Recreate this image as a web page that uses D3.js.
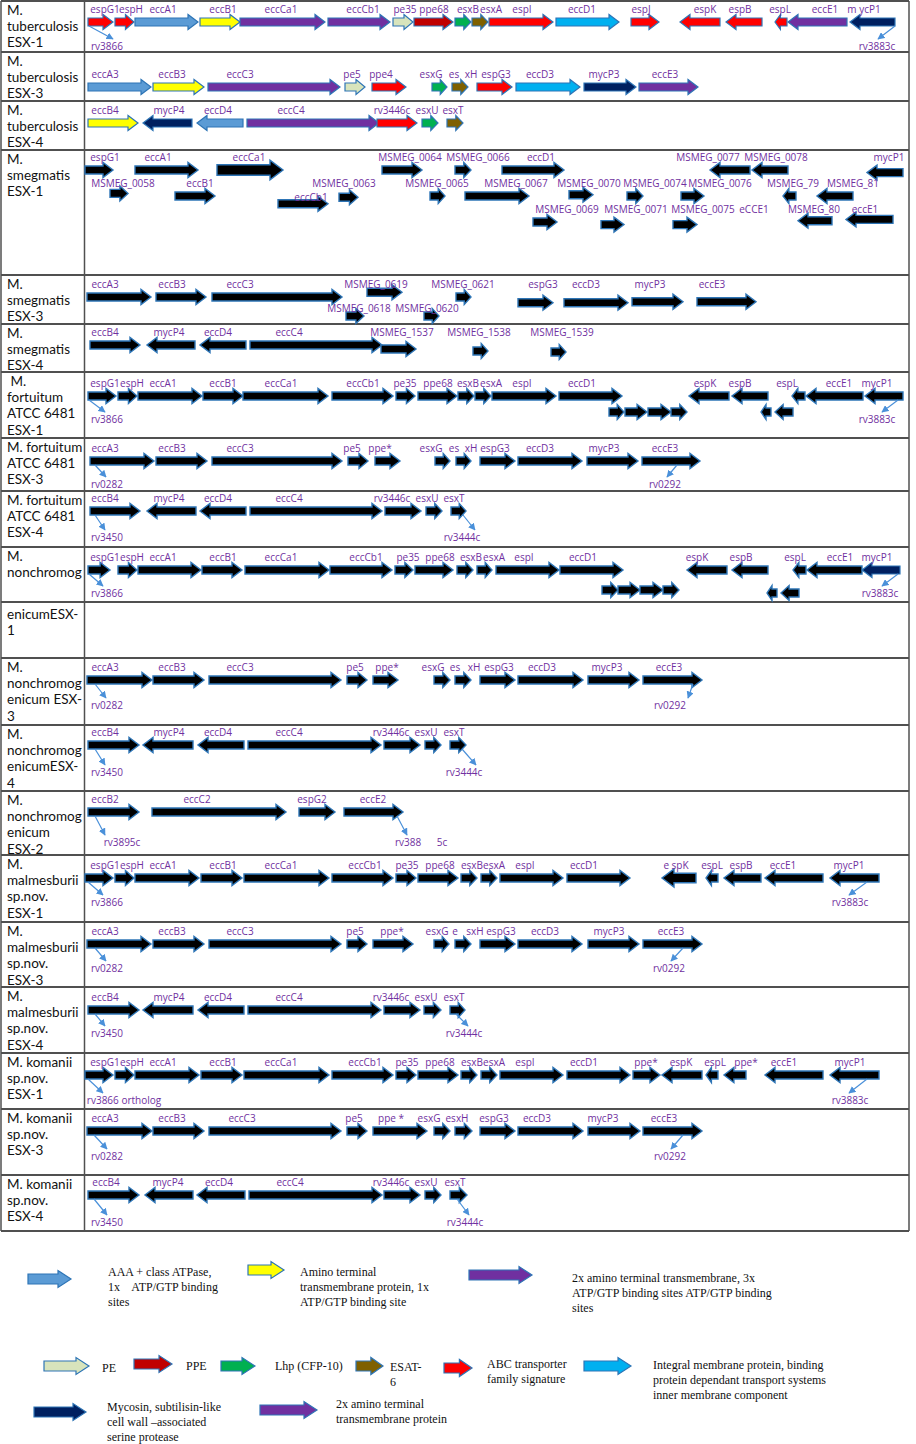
<!DOCTYPE html>
<html>
<head>
<meta charset="utf-8">
<script src="https://cdn.jsdelivr.net/npm/d3@7"></script>
<style>
  body { margin: 0; background: #fff; }
  svg { display: block; }
</style>
</head>
<body>
<div id="chart"></div>
<script>
  /* ============ DATA ============ */
  // row titles (left column)
  const rowLabels = [
    ["M.", "tuberculosis", "ESX-1"],
    ["M.", "tuberculosis", "ESX-3"],
    ["M.", "tuberculosis", "ESX-4"],
    ["M.", "smegmatis", "ESX-1"],
    ["M.", "smegmatis", "ESX-3"],
    ["M.", "smegmatis", "ESX-4"],
    [" M.", "fortuitum", "ATCC 6481", "ESX-1"],
    ["M. fortuitum", "ATCC 6481", "ESX-3"],
    ["M. fortuitum", "ATCC 6481", "ESX-4"],
    ["M.", "nonchromog"],
    ["enicumESX-", "1"],
    ["M.", "nonchromog", "enicum ESX-", "3"],
    ["M.", "nonchromog", "enicumESX-", "4"],
    ["M.", "nonchromog", "enicum", "ESX-2"],
    ["M.", "malmesburii", "sp.nov.", "ESX-1"],
    ["M.", "malmesburii", "sp.nov.", "ESX-3"],
    ["M.", "malmesburii", "sp.nov.", "ESX-4"],
    ["M. komanii", "sp.nov.", "ESX-1"],
    ["M. komanii", "sp.nov.", "ESX-3"],
    ["M. komanii", "sp.nov.", "ESX-4"]
  ];

  // genes: [label, start, end, strand, type, lane, labelPos, labelLane, size]
  // start/end/labelPos are positions along the locus (0..825)
  const tbEsx1 = [
    ["espG1",3,28,1,"abc",0,20], ["espH",30,49,1,"abc",0,46], ["eccA1",50,113,1,"atp",0,78],
    ["eccB1",115,155,1,"tm1",0,138], ["eccCa1",155,240,1,"tm3",0,196], ["eccCb1",243,305,1,"tm3",0,278],
    ["pe35",308,328,1,"pe",0,320], ["ppe68",329,368,1,"ppe",0,349], ["esxB",370,386,1,"lhp",0,383],
    ["esxA",387,403,1,"esat",0,406], ["espI",404,468,1,"abc",0,437], ["eccD1",471,534,1,"imp",0,497],
    ["espJ",546,574,1,"abc",0,556], ["espK",595,635,-1,"abc",0,620], ["espB",641,677,-1,"abc",0,655],
    ["espL",690,702,-1,"abc",0,695], ["eccE1",703,762,-1,"tm3",0,740], ["m ycP1",765,810,-1,"myc",0,779]
  ];
  const tbEsx3 = [
    ["eccA3",3,66,1,"atp",0,20], ["eccB3",68,119,1,"tm1",0,87], ["eccC3",123,255,1,"tm3",0,155],
    ["pe5",260,280,1,"pe",0,267], ["ppe4",287,321,1,"abc",0,296], ["esxG",347,362,1,"lhp",0,346],
    ["es",null,null,0,null,0,369], ["xH",367,383,1,"esat",0,386], ["espG3",392,427,1,"abc",0,411],
    ["eccD3",431,495,1,"imp",0,455], ["mycP3",499,551,1,"myc",0,519], ["eccE3",554,613,1,"tm3",0,580]
  ];
  const tbEsx4 = [
    ["eccB4",3,53,1,"tm1",0,20], ["mycP4",58,107,-1,"myc",0,84], ["eccD4",112,158,-1,"atp",0,133],
    ["eccC4",162,294,1,"tm3",0,206], ["rv3446c",292,332,1,"abc",0,307], ["esxU",337,353,1,"lhp",0,342],
    ["esxT",362,378,1,"esat",0,368]
  ];
  const smEsx1 = [
    ["espG1",0,28,1,"k",0,20], ["eccA1",50,113,1,"k",0,73], ["eccCa1",132,198,1,"k",0,164,0,1.3],
    ["MSMEG_0064",297,337,1,"k",0,325], ["MSMEG_0066",370,386,1,"k",0,393], ["eccD1",417,479,1,"k",0,456],
    ["MSMEG_0077",625,665,-1,"k",0,623], ["MSMEG_0078",667,703,-1,"k",0,691], ["mycP1",782,818,-1,"k",0.1,804,0],
    ["MSMEG_0058",25,43,1,"k",0.9,38,1], ["eccB1",90,130,1,"k",1,115], ["MSMEG_0063",254,273,1,"k",1.05,259,1],
    ["MSMEG_0065",345,360,1,"k",1,352], ["MSMEG_0067",380,444,1,"k",1,431], ["MSMEG_0070",484,508,1,"k",0.95,504,1],
    ["MSMEG_0074",542,558,1,"k",1,570], ["MSMEG_0076",596,619,1,"k",1,635], ["MSMEG_79",698,711,-1,"k",1,708],
    ["MSMEG_81",732,768,-1,"k",1,768], ["eccCb1",193,243,1,"k",1.3,226,1.55],
    ["MSMEG_0069",448,472,1,"k",2,482], ["MSMEG_0071",516,539,1,"k",2.1,551,2], ["MSMEG_0075",588,612,1,"k",2.1,618,2],
    ["eCCE1",null,null,0,null,2,669], ["MSMEG_80",713,747,-1,"k",1.95,729,2], ["eccE1",761,808,-1,"k",1.9,780,2]
  ];
  const smEsx3 = [
    ["eccA3",2,66,1,"k",0,20], ["eccB3",71,121,1,"k",0,87], ["eccC3",127,257,1,"k",0,155],
    ["MSMEG_0619",282,317,1,"k",-0.25,291,0], ["MSMEG_0618",261,279,1,"k",1,274,1.25],
    ["MSMEG_0620",339,354,1,"k",1,342,1.25], ["MSMEG_0621",371,386,1,"k",0,378],
    ["espG3",433,468,1,"k",0.3,458,0], ["eccD3",479,543,1,"k",0.3,501,0],
    ["mycP3",547,598,1,"k",0.25,565,0], ["eccE3",612,671,1,"k",0.25,627,0]
  ];
  const smEsx4 = [
    ["eccB4",5,55,1,"k",0,20], ["mycP4",62,110,-1,"k",0,84], ["eccD4",115,161,-1,"k",0,133],
    ["eccC4",165,297,1,"k",0,204], ["MSMEG_1537",296,331,1,"k",0.2,317,0],
    ["MSMEG_1538",388,403,1,"k",0.3,394,0], ["MSMEG_1539",466,481,1,"k",0.35,477,0]
  ];
  const ftEsx1 = [
    ["espG1",3,31,1,"k",0,20], ["espH",33,52,1,"k",0,47], ["eccA1",53,117,1,"k",0,78],
    ["eccB1",118,158,1,"k",0,138], ["eccCa1",158,243,1,"k",0,196], ["eccCb1",247,308,1,"k",0,278],
    ["pe35",311,330,1,"k",0,320], ["ppe68",333,372,1,"k",0,353], ["esxB",373,389,1,"k",0,383],
    ["esxA",390,406,1,"k",0,406], ["espI",407,471,1,"k",0,437], ["eccD1",474,537,1,"k",0,497],
    ["",524,539,1,"k",1], ["",540,562,1,"k",1], ["",563,586,1,"k",1], ["",586,602,1,"k",1],
    ["espK",604,644,-1,"k",0,620], ["espB",647,683,-1,"k",0,655],
    ["",676,686,-1,"k",1], ["",690,708,-1,"k",1],
    ["espL",707,720,-1,"k",0,702], ["eccE1",721,778,-1,"k",0,754], ["mycP1",780,818,-1,"k",0,792]
  ];
  const ftEsx3 = [
    ["eccA3",5,69,1,"k",0,20], ["eccB3",71,122,1,"k",0,87], ["eccC3",127,257,1,"k",0,155],
    ["pe5",263,283,1,"k",0,267], ["ppe*",290,315,1,"k",0,295], ["esxG",350,365,1,"k",0,346],
    ["es",null,null,0,null,0,369], ["xH",371,386,1,"k",0,386], ["espG3",395,430,1,"k",0,410],
    ["eccD3",433,497,1,"k",0,455], ["mycP3",502,553,1,"k",0,519], ["eccE3",557,615,1,"k",0,580]
  ];
  const ftEsx4 = [
    ["eccB4",5,55,1,"k",0,20], ["mycP4",62,111,-1,"k",0,84], ["eccD4",115,161,-1,"k",0,133],
    ["eccC4",165,297,1,"k",0,204], ["rv3446c",300,336,1,"k",0,307], ["esxU",341,357,1,"k",0,342],
    ["esxT",366,381,1,"k",0,369]
  ];
  const ncEsx1 = [
    ["espG1",3,25,1,"k",0,20], ["espH",33,52,1,"k",0,47], ["eccA1",53,116,1,"k",0,78],
    ["eccB1",117,157,1,"k",0,138], ["eccCa1",160,244,1,"k",0,196], ["eccCb1",245,307,1,"k",0,281],
    ["pe35",310,328,1,"k",0,323], ["ppe68",330,368,1,"k",0,355], ["esxB",372,388,1,"k",0,386],
    ["esxA",392,407,1,"k",0,409], ["espI",411,474,1,"k",0,439], ["eccD1",475,538,1,"k",0,498],
    ["",517,533,1,"k",1], ["",533,555,1,"k",1], ["",555,578,1,"k",1], ["",578,594,1,"k",1],
    ["espK",602,642,-1,"k",0,612], ["espB",647,683,-1,"k",0,656],
    ["",682,692,-1,"k",1.15], ["",696,714,-1,"k",1.15],
    ["espL",708,721,-1,"k",0,710], ["eccE1",722,777,-1,"k",0,755], ["mycP1",777,815,-1,"myc",0,792]
  ];
  const ncEsx1b = [];
  const ncEsx3 = [
    ["eccA3",2,67,1,"k",0,20], ["eccB3",68,119,1,"k",0,87], ["eccC3",124,256,1,"k",0,155],
    ["pe5",262,282,1,"k",0,270], ["ppe*",288,313,1,"k",0,302], ["esxG",349,365,1,"k",0,348],
    ["es",null,null,0,null,0,370], ["xH",370,386,1,"k",0,389], ["espG3",395,430,1,"k",0,414],
    ["eccD3",433,498,1,"k",0,457], ["mycP3",503,554,1,"k",0,522], ["eccE3",558,617,1,"k",0,584]
  ];
  const ncEsx4 = [
    ["eccB4",3,54,1,"k",0,20], ["mycP4",58,108,-1,"k",0,84], ["eccD4",113,159,-1,"k",0,133],
    ["eccC4",163,296,1,"k",0,204], ["rv3446c",299,335,1,"k",0,306], ["esxU",340,356,1,"k",0,341],
    ["esxT",365,381,1,"k",0,369]
  ];
  const ncEsx2 = [
    ["eccB2",3,54,1,"k",0,20], ["eccC2",67,201,1,"k",0,112], ["espG2",214,250,1,"k",0,227],
    ["eccE2",259,318,1,"k",0,288]
  ];
  const esx1Core = [
    ["espG1",0,28,1,"k",0,20], ["espH",30,49,1,"k",0,47], ["eccA1",50,114,1,"k",0,78],
    ["eccB1",116,157,1,"k",0,138], ["eccCa1",159,244,1,"k",0,196], ["eccCb1",247,308,1,"k",0,280],
    ["pe35",311,331,1,"k",0,322], ["ppe68",333,373,1,"k",0,355], ["esxB",376,392,1,"k",0,387],
    ["esxA",396,412,1,"k",0,409], ["espI",415,478,1,"k",0,440], ["eccD1",482,545,1,"k",0,499]
  ];
  const mmEsx1 = esx1Core.concat([
    ["e spK",577,611,-1,"k",0,591,0,1.2], ["espL",621,633,-1,"k",0,627], ["espB",639,676,-1,"k",0,656],
    ["eccE1",680,738,-1,"k",0,698], ["mycP1",745,794,-1,"k",0,764]
  ]);
  const mmEsx3 = [
    ["eccA3",2,66,1,"k",0,20], ["eccB3",68,119,1,"k",0,87], ["eccC3",124,256,1,"k",0,155],
    ["pe5",262,282,1,"k",0,270], ["ppe*",288,328,1,"k",0,307], ["esxG",349,364,1,"k",0,352],
    ["e",null,null,0,null,0,370], ["sxH",370,386,1,"k",0,390], ["espG3",395,430,1,"k",0,416],
    ["eccD3",433,497,1,"k",0,460], ["mycP3",503,554,1,"k",0,524], ["eccE3",558,617,1,"k",0,586]
  ];
  const mmEsx4 = [
    ["eccB4",3,54,1,"k",0,20], ["mycP4",58,108,-1,"k",0,84], ["eccD4",113,159,-1,"k",0,133],
    ["eccC4",163,296,1,"k",0,204], ["rv3446c",299,335,1,"k",0,306], ["esxU",339,356,1,"k",0,341],
    ["esxT",365,380,1,"k",0,369]
  ];
  const kmEsx1 = esx1Core.concat([
    ["ppe*",548,575,1,"k",0,561], ["espK",577,617,-1,"k",0,596], ["espL",621,633,-1,"k",0,630],
    ["ppe*",639,661,-1,"k",0,661], ["eccE1",680,738,-1,"k",0,699], ["mycP1",745,794,-1,"k",0,765]
  ]);
  const kmEsx3 = [
    ["eccA3",2,67,1,"k",0,20], ["eccB3",68,119,1,"k",0,87], ["eccC3",124,256,1,"k",0,157],
    ["pe5",262,282,1,"k",0,269], ["ppe *",288,342,1,"k",0,306], ["esxG",349,365,1,"k",0,344],
    ["esxH",370,387,1,"k",0,372], ["espG3",395,430,1,"k",0,409], ["eccD3",433,498,1,"k",0,452],
    ["mycP3",503,555,1,"k",0,518], ["eccE3",558,617,1,"k",0,579]
  ];
  const kmEsx4 = [
    ["eccB4",3,54,1,"k",0,21], ["mycP4",60,108,-1,"k",0,83], ["eccD4",112,160,-1,"k",0,134],
    ["eccC4",164,297,1,"k",0,205], ["rv3446c",299,335,1,"k",0,306], ["esxU",340,356,1,"k",0,341],
    ["esxT",365,382,1,"k",0,370]
  ];

  const loci = [tbEsx1, tbEsx3, tbEsx4, smEsx1, smEsx3, smEsx4, ftEsx1, ftEsx3, ftEsx4,
                ncEsx1, ncEsx1b, ncEsx3, ncEsx4, ncEsx2, mmEsx1, mmEsx3, mmEsx4, kmEsx1, kmEsx3, kmEsx4];

  // Rv orthologue call-outs: [row, text, from, to, labelPos]
  const callouts = [
    [0,"rv3866",4,28,22], [0,"rv3883c",810,793,792],
    [6,"rv3866",4,20,22], [6,"rv3883c",813,797,792],
    [7,"rv0282",10,21,22], [7,"rv0292",592,582,580],
    [8,"rv3450",10,20,22], [8,"rv3444c",378,390,377],
    [9,"rv3866",4,18,22], [9,"rv3883c",813,797,795],
    [11,"rv0282",10,21,22], [11,"rv0292",608,603,585],
    [12,"rv3450",10,20,22], [12,"rv3444c",377,391,379],
    [13,"rv3895c",10,20,37], [13,"rv388",312,322,323], [13,"5c",null,null,357],
    [14,"rv3866",3,18,22], [14,"rv3883c",782,764,765],
    [15,"rv0282",10,21,22], [15,"rv0292",598,586,584],
    [16,"rv3450",10,20,22], [16,"rv3444c",371,383,379],
    [17,"rv3866 ortholog",3,18,39], [17,"rv3883c",782,764,765],
    [18,"rv0282",9,22,22], [18,"rv0292",598,586,585],
    [19,"rv3450",9,22,22], [19,"rv3444c",372,384,380]
  ];

  // legend
  const legendTypes = ["atp","tm1","tm3","pe","ppe","lhp","esat","abc","imp","myc","tm2"];
  const legendLabels = [
    ["AAA + class ATPase,", "1x    ATP/GTP binding", "sites"],
    ["Amino terminal", "transmembrane protein, 1x", "ATP/GTP binding site"],
    ["2x amino terminal transmembrane, 3x", "ATP/GTP binding sites ATP/GTP binding", "sites"],
    ["PE"], ["PPE"], ["Lhp (CFP-10)"], ["ESAT-", "6"],
    ["ABC transporter", "family signature"],
    ["Integral membrane protein, binding", "protein dependant transport systems", "inner membrane component"],
    ["Mycosin, subtilisin-like", "cell wall \u2013associated", "serine protease"],
    ["2x amino terminal", "transmembrane protein"]
  ];

  /* ============ STYLE & LAYOUT ============ */
  const TYPE_COLORS = {
    atp: "#5b9bd5", tm1: "#ffff00", tm3: "#7030a0", tm2: "#7030a0", pe: "#d8e4bc",
    ppe: "#c00000", lhp: "#00b050", esat: "#7f6000", abc: "#ff0000", imp: "#00b0f0",
    myc: "#002060", k: "#000000"
  };
  const W = 916, H = 1444;
  const TABLE_TOP = 1, COL_X = 84.5, RIGHT_X = 909;
  const ROW_H = [51,49,49,125,49,48,66,53,56,55,56,67,66,64,67,65,66,56,66,56];
  const ARROW_DY = [21,35,22,20,22,21,24,23,20,23,null,22,20,21,23,22,23,22,22,20];
  const LANE_GAP = {3: 26, 4: 19, 5: 20, 6: 16, 9: 20};
  const CALLOUT_DY = {0:24, 6:23, 7:23, 8:26, 9:23, 11:25, 12:27, 13:30, 14:24, 15:24, 16:23, 17:25, 18:25, 19:27};
  // legend placement: [x0, x1, arrowY, textX, firstLineY]
  const LEGEND_POS = [
    [28,71,1279,108,1272], [248,284,1270,300,1272], [469,532,1275,572,1278],
    [44,89,1366,102,1368], [134,172,1364,186,1366], [221,255,1366,275,1366],
    [356,383,1366,390,1367], [444,472,1368,487,1364], [584,631,1366,653,1365],
    [34,86,1412,107,1407], [260,317,1410,336,1404]
  ];

  const rowTops = [TABLE_TOP].concat(Array.from(d3.cumsum(ROW_H), v => TABLE_TOP + v));
  const x = d3.scaleLinear().domain([0, 825]).range([85, 910]);

  function arrowPath(x0, x1, y, dir, k, bh0, hh0, hl0) {
    const len = x1 - x0;
    const bh = bh0 * k, hh = hh0 * k;
    const hl = Math.min(hl0 * k, Math.max(5, len * 0.45));
    if (dir > 0) {
      const xb = x1 - hl;
      return `M${x0},${y - bh/2}H${xb}V${y - hh/2}L${x1},${y}L${xb},${y + hh/2}V${y + bh/2}H${x0}Z`;
    }
    const xb = x0 + hl;
    return `M${x1},${y - bh/2}H${xb}V${y - hh/2}L${x0},${y}L${xb},${y + hh/2}V${y + bh/2}H${x1}Z`;
  }

  /* ============ DRAW ============ */
  const svg = d3.select("#chart").append("svg").attr("width", W).attr("height", H);

  svg.append("defs").append("marker")
    .attr("id", "tip").attr("viewBox", "0 0 10 10")
    .attr("refX", 9).attr("refY", 5)
    .attr("markerWidth", 6).attr("markerHeight", 6)
    .attr("orient", "auto")
    .append("path").attr("d", "M0,0L10,5L0,10Z").attr("fill", "#4a90d9");

  // table grid
  const grid = svg.append("g").attr("stroke", "#505050").attr("fill", "none");
  grid.selectAll("line.h").data(rowTops).join("line")
    .attr("x1", 1).attr("x2", RIGHT_X)
    .attr("y1", d => d).attr("y2", d => d)
    .attr("stroke-width", 1.8);
  grid.append("line").attr("x1", 1).attr("x2", 1)
    .attr("y1", TABLE_TOP).attr("y2", rowTops[rowTops.length - 1]).attr("stroke-width", 1.5);
  grid.append("line").attr("x1", COL_X).attr("x2", COL_X)
    .attr("y1", TABLE_TOP).attr("y2", rowTops[rowTops.length - 1]).attr("stroke-width", 1.5);
  grid.append("line").attr("x1", RIGHT_X).attr("x2", RIGHT_X)
    .attr("y1", TABLE_TOP).attr("y2", rowTops[rowTops.length - 1]).attr("stroke-width", 1.5);

  // row titles
  svg.append("g").selectAll("text")
    .data(rowLabels)
    .join("text")
    .attr("font-family", "Lato, 'Open Sans', sans-serif")
    .attr("font-size", 13.5)
    .attr("fill", "#111")
    .style("white-space", "pre")
    .each(function (lines, i) {
      d3.select(this).selectAll("tspan").data(lines).join("tspan")
        .attr("x", 7)
        .attr("y", (l, j) => rowTops[i] + 14 + (i === 10 ? 3 : 0) + j * 16.2)
        .text(l => l);
    });

  // genes
  loci.forEach((genes, r) => {
    if (ARROW_DY[r] == null) return;
    const baseY = rowTops[r] + ARROW_DY[r];
    const gap = LANE_GAP[r] || 20;
    const laneY = ln => baseY + ln * gap;
    const g = svg.append("g").attr("class", "locus");

    const recs = genes.map(d => ({
      name: d[0], s: d[1], e: d[2], dir: d[3], type: d[4],
      lane: d[5] || 0, lx: d[6] != null ? d[6] : (d[1] + d[2]) / 2,
      ll: d[7] != null ? d[7] : (d[5] || 0), k: d[8] || 1
    }));

    g.selectAll("path.gene")
      .data(recs.filter(d => d.s != null))
      .join("path")
      .attr("class", "gene")
      .attr("d", d => arrowPath(x(d.s), x(d.e), laneY(d.lane), d.dir, d.k, 8, 15, 10))
      .attr("fill", d => TYPE_COLORS[d.type])
      .attr("stroke", "#2e75b6")
      .attr("stroke-width", d => d.type === "k" ? 1.4 : 1.2)
      .attr("stroke-linejoin", "miter");

    g.selectAll("text.glabel")
      .data(recs.filter(d => d.name))
      .join("text")
      .attr("class", "glabel")
      .attr("x", d => x(d.lx))
      .attr("y", d => laneY(d.ll) - 13)
      .attr("text-anchor", "middle")
      .attr("dominant-baseline", "central")
      .attr("font-family", "'Open Sans', sans-serif")
      .attr("font-size", 10)
      .attr("fill", "#7030a0")
      .style("white-space", "pre")
      .text(d => d.name);
  });

  // call-outs
  const co = svg.append("g").attr("class", "callouts");
  callouts.forEach(([r, text, from, to, lx]) => {
    const aY = rowTops[r] + ARROW_DY[r];
    const ly = aY + CALLOUT_DY[r];
    if (from != null) {
      co.append("line")
        .attr("x1", x(from)).attr("y1", aY + 4)
        .attr("x2", x(to)).attr("y2", ly - 7)
        .attr("stroke", "#4a90d9").attr("stroke-width", 1.2)
        .attr("marker-end", "url(#tip)");
    }
    co.append("text")
      .attr("x", x(lx)).attr("y", ly)
      .attr("text-anchor", "middle")
      .attr("dominant-baseline", "central")
      .attr("font-family", "'Open Sans', sans-serif")
      .attr("font-size", 10)
      .attr("fill", "#7030a0")
      .text(text);
  });

  // legend
  const lg = svg.append("g").attr("class", "legend");
  legendTypes.forEach((t, i) => {
    const [x0, x1, ay, tx, ty] = LEGEND_POS[i];
    lg.append("path")
      .attr("d", arrowPath(x0, x1, ay, 1, 1, 10, 17, 13))
      .attr("fill", TYPE_COLORS[t])
      .attr("stroke", "#2e75b6")
      .attr("stroke-width", 1.2);
    lg.append("text")
      .attr("font-family", "'Liberation Serif', 'Times New Roman', serif")
      .attr("font-size", 12)
      .attr("fill", "#111")
      .style("white-space", "pre")
      .selectAll("tspan").data(legendLabels[i]).join("tspan")
      .attr("x", tx)
      .attr("y", (l, j) => ty + 4 + j * 14.8)
      .text(l => l);
  });
</script>
</body>
</html>
